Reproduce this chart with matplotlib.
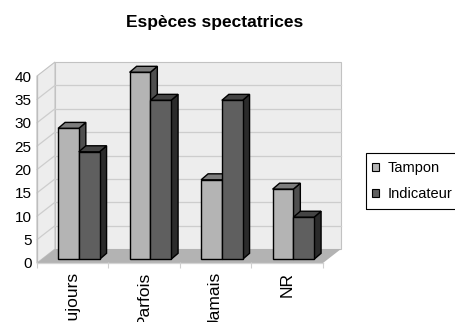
import matplotlib
matplotlib.use("Agg")
import matplotlib.pyplot as plt
from matplotlib.patches import Polygon, Patch, Rectangle
from matplotlib.transforms import Affine2D

plt.rcParams['font.family'] = ['Liberation Sans', 'DejaVu Sans']

# Data
categories = ["Toujours", "Parfois", "Jamais", "NR"]
series_names = ["Tampon", "Indicateur"]
tampon = [28, 40, 17, 15]
indicateur = [23, 34, 34, 9]
y_ticks = [0, 5, 10, 15, 20, 25, 30, 35, 40]
title = "Espèces spectatrices"

# Styling
DPI = 100
W, H = 456, 322
face_colors = ["#b4b4b4", "#5f5f5f"]
top_colors = ["#7d7d7d", "#444444"]
side_colors = ["#4f4f4f", "#2b2b2b"]
wall_color = "#ededed"
floor_color = "#b3b3b3"
grid_color = "#cdcdcd"
edge_gray = "#c2c2c2"

WALL_DX, WALL_DY = 18, 14          # depth of the box, pixels
BAR_OFF_DX, BAR_OFF_DY = 4.3, 3.7  # bars sit slightly behind the front plane
BAR_DX, BAR_DY = 7, 6              # bar depth, pixels
BAR_W = 0.29
PAIR_CENTER = 0.525

fig = plt.figure(figsize=(W / DPI, H / DPI), dpi=DPI)
fig.patch.set_facecolor("white")
ax = fig.add_axes([37 / W, (H - 263) / H, 286 / W, 187 / H])
ax.set_xlim(0, len(categories))
ax.set_ylim(0, 40)
ax.set_facecolor("none")
for s in ax.spines.values():
    s.set_visible(False)


def shifted(dx, dy):
    return ax.transData + Affine2D().translate(dx, dy)


def poly(points, trans, fc, ec="none", lw=0.0, z=1):
    p = Polygon(points, closed=True, facecolor=fc, edgecolor=ec,
                linewidth=lw, transform=trans, clip_on=False, zorder=z,
                joinstyle="miter")
    ax.add_patch(p)


n = len(categories)
ymax = y_ticks[-1]

# back wall
back = shifted(WALL_DX, WALL_DY)
poly([(0, 0), (n, 0), (n, ymax), (0, ymax)], back,
     wall_color, edge_gray, 0.8, z=1)
# left wall: parallelogram between front axis and back wall
inv = ax.transData.inverted()


def to_back(x, y):
    return inv.transform(back.transform((x, y)))


poly([(0, 0), to_back(0, 0), to_back(0, ymax), (0, ymax)], ax.transData,
     wall_color, edge_gray, 0.8, z=1)

# gridlines on back and left walls
for t in y_ticks[1:-1]:
    ax.plot([0, n], [t, t], color=grid_color, lw=0.9, transform=back,
            clip_on=False, zorder=1.5)
    b = to_back(0, t)
    ax.plot([0, b[0]], [t, b[1]], color=grid_color, lw=0.9,
            clip_on=False, zorder=1.5)

# floor
poly([(0, 0), (n, 0), to_back(n, 0), to_back(0, 0)], ax.transData,
     floor_color, "none", 0, z=1.6)

# front axis lines
ax.plot([0, 0], [0, ymax], color="#bdbdbd", lw=0.9, clip_on=False, zorder=1.7)
ax.plot([0, n], [0, 0], color="#d4d4d4", lw=0.9, clip_on=False, zorder=1.7)

# bars with top and side faces
bar_tr = shifted(BAR_OFF_DX, BAR_OFF_DY)


def on_bar_plane(x, y):
    return inv.transform(bar_tr.transform((x, y)))


def deepen(p):
    return inv.transform(ax.transData.transform(p) + (BAR_DX, BAR_DY))


z = 3
for i in range(n):
    c = i + PAIR_CENTER
    for k, vals in enumerate([tampon, indicateur]):
        v = vals[i]
        x0 = c - BAR_W if k == 0 else c
        x1 = x0 + BAR_W
        p1 = on_bar_plane(x1, 0)
        pv0 = on_bar_plane(x0, v)
        pv1 = on_bar_plane(x1, v)
        # side face
        poly([p1, pv1, deepen(pv1), deepen(p1)], ax.transData,
             side_colors[k], "black", 1.0, z=z)
        # top face
        poly([pv0, pv1, deepen(pv1), deepen(pv0)], ax.transData,
             top_colors[k], "black", 1.0, z=z)
        # front face
        ax.bar(x0, v, width=BAR_W, bottom=0, align="edge",
               color=face_colors[k], edgecolor="black", linewidth=1.0,
               transform=bar_tr, clip_on=False, zorder=z + 0.5)
        z += 1

# ticks
ax.set_yticks(y_ticks)
ax.set_yticklabels([str(t) for t in y_ticks], fontsize=11)
ax.tick_params(axis="y", length=0, pad=4)
ax.set_xticks([])
tick_tr = ax.transData + Affine2D().translate(0, -2)
for i in range(n + 1):
    ax.plot([i], [0], marker="|", ms=4, color="#d0d0d0", clip_on=False,
            zorder=1.7, markeredgewidth=0.8, transform=tick_tr)
for i, name in enumerate(categories):
    ax.annotate(name, xy=(i + 0.5, 0), xycoords="data",
                xytext=(0, -9), textcoords="offset pixels",
                rotation=90, ha="center", va="top", fontsize=12.5,
                annotation_clip=False)

fig.text(215 / W, 1 - 22 / H, title, ha="center", va="center",
         fontsize=12.5, fontweight="bold")

# legend: entries plus a frame that runs past the right edge
handles = [Patch(facecolor=face_colors[k], edgecolor="black", linewidth=0.8)
           for k in range(2)]
leg = fig.legend(handles, series_names, loc="upper left",
                 bbox_to_anchor=(372 / W, 1 - 161 / H), fontsize=10.5,
                 frameon=False, handlelength=0.5, handleheight=0.5,
                 handletextpad=0.55, borderpad=0.0, labelspacing=0.85,
                 borderaxespad=0)
fig.patches.append(Rectangle((366 / W, 1 - 209 / H), 100 / W, 56 / H,
                             transform=fig.transFigure, facecolor="none",
                             edgecolor="black", linewidth=0.8))

fig.savefig("out.png", dpi=DPI)
